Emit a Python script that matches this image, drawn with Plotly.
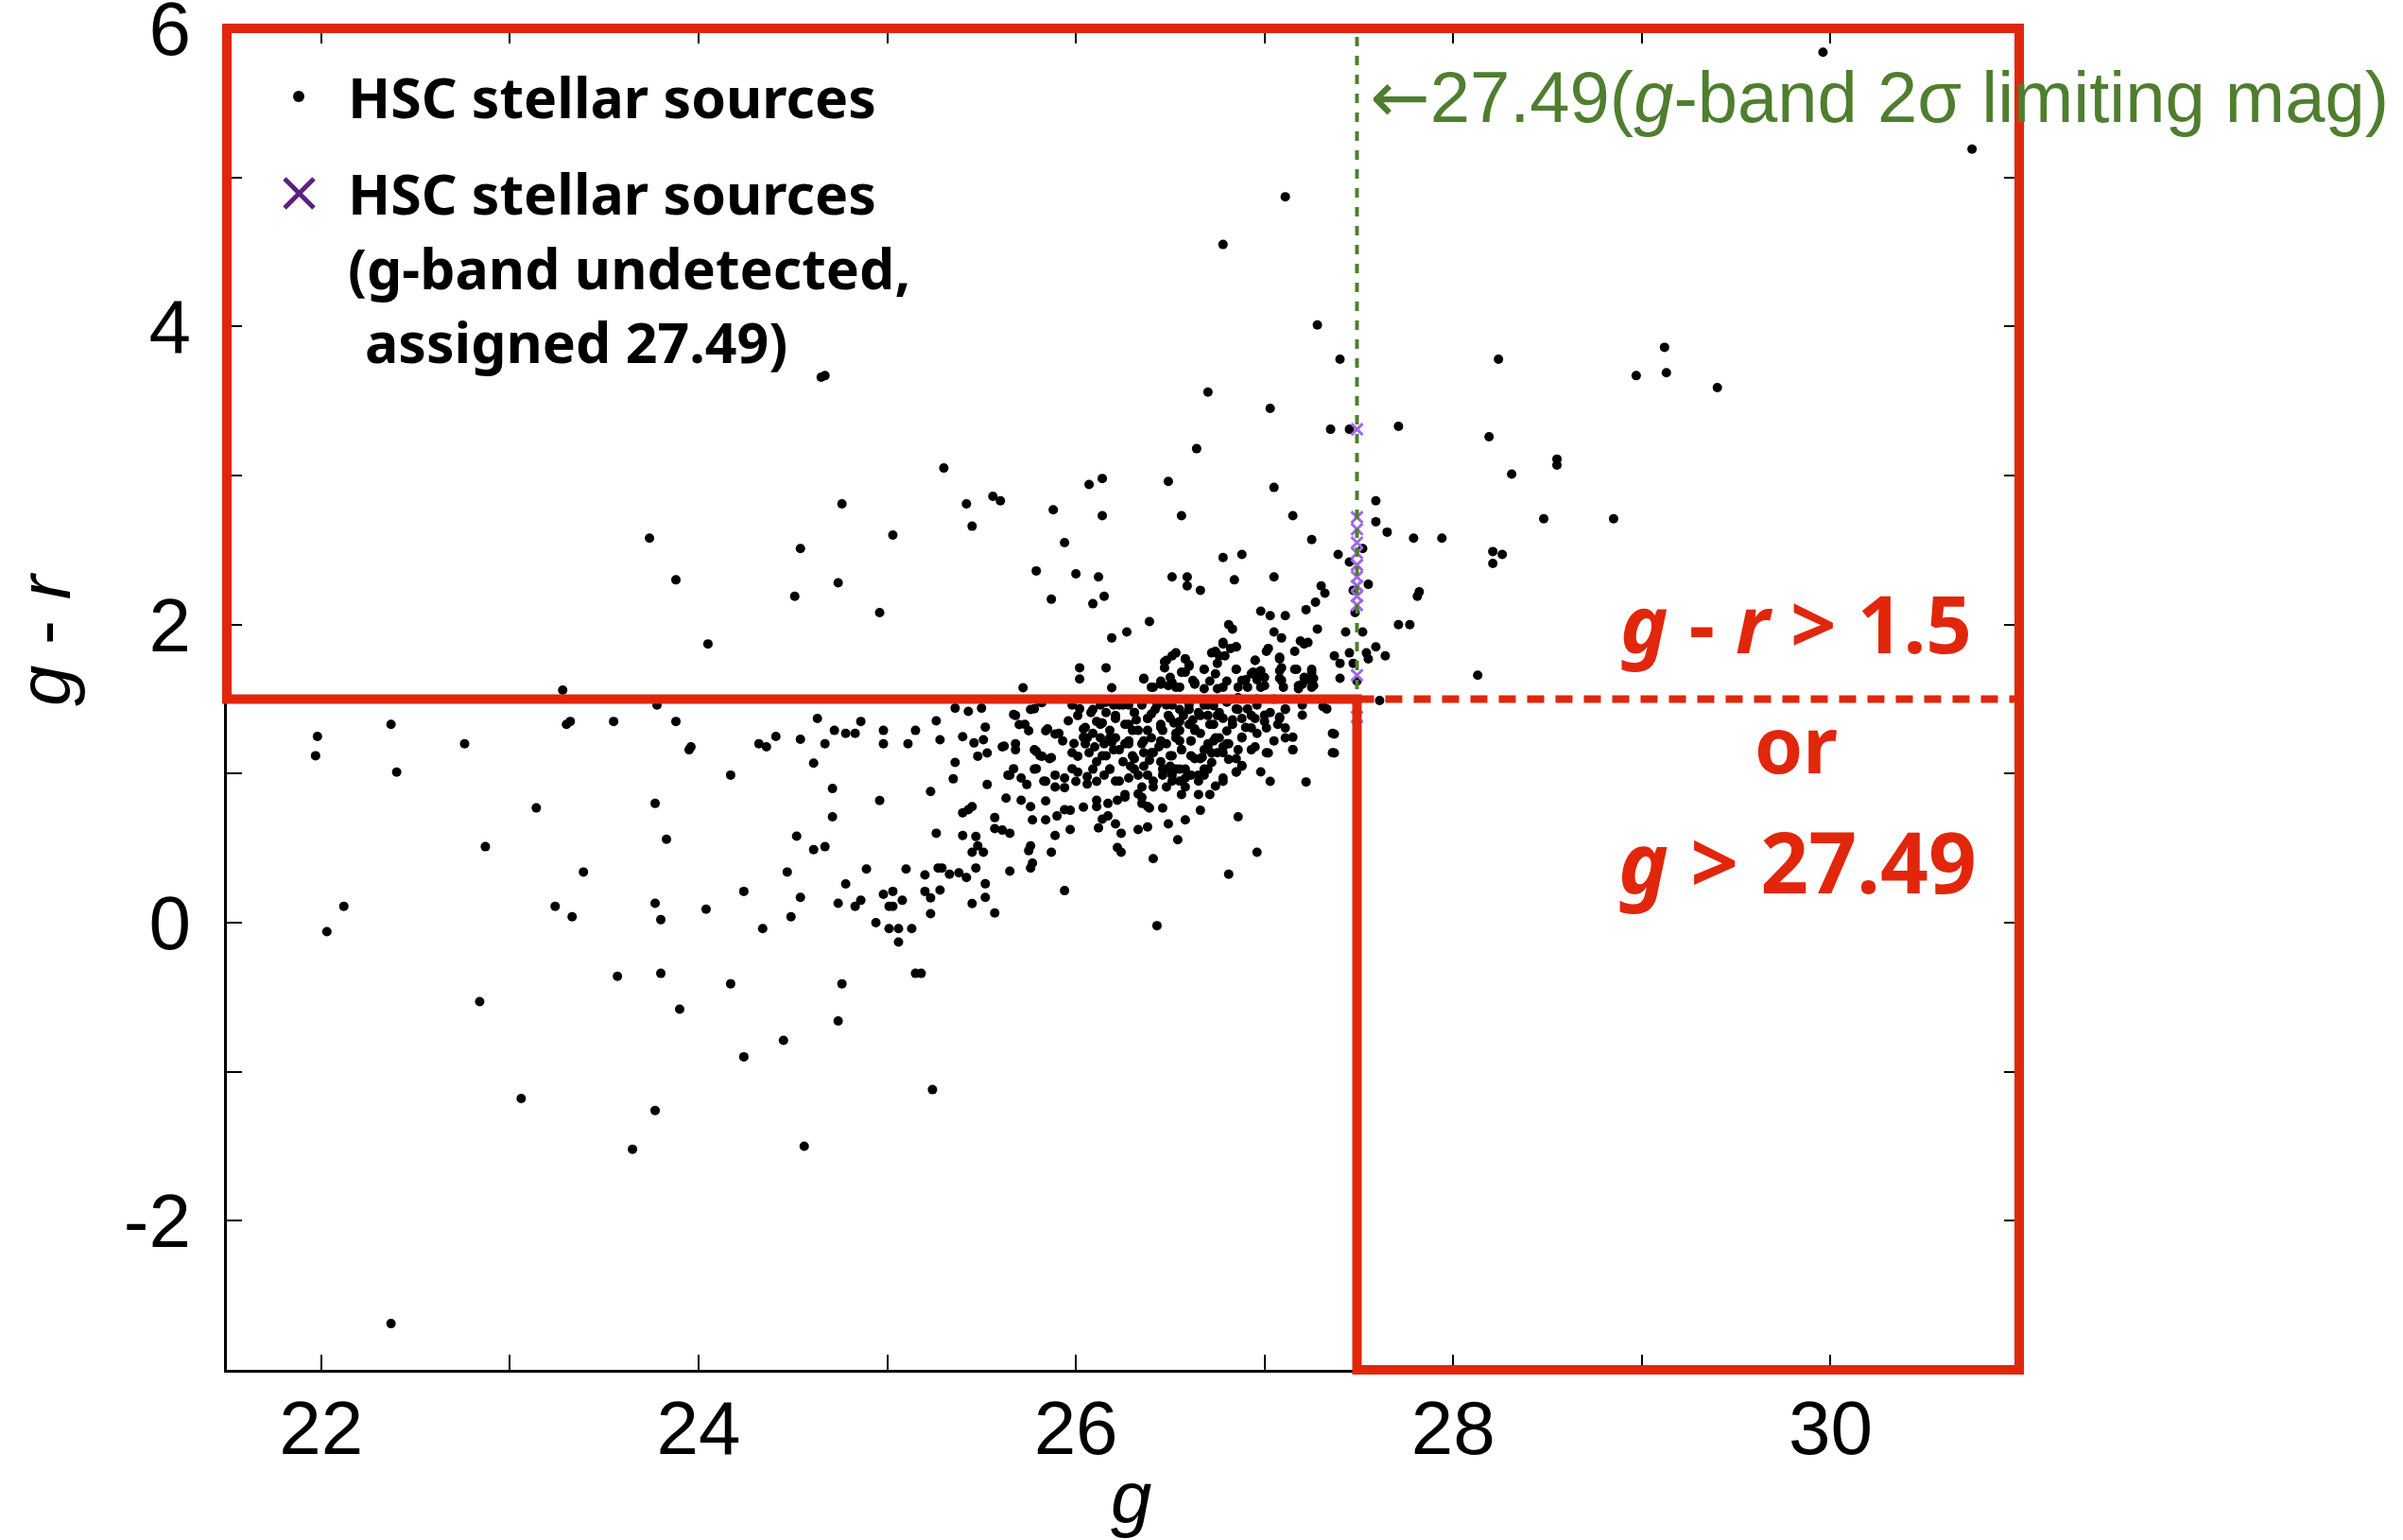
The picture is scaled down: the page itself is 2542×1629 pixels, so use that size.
import plotly.graph_objects as go

# ---------------- data ----------------
# (g, g-r) pairs of HSC stellar sources, grouped by region of the diagram
left_sparse = [
    (24.05, 1.87), (23.28, 1.56), (23.78, 1.46), (22.37, 1.33), (21.98, 1.25), (21.97, 1.12),
    (22.40, 1.01), (22.76, 1.20), (23.30, 1.33), (23.32, 1.35), (23.55, 1.35), (23.88, 1.35),
    (23.96, 1.18), (23.95, 1.16), (24.17, 0.99), (24.32, 1.20), (24.36, 1.18), (24.41, 1.25),
    (24.54, 1.23), (24.63, 1.37), (24.61, 1.07), (24.67, 1.20), (24.72, 1.29), (24.78, 1.27),
    (24.83, 1.27), (24.86, 1.35), (24.98, 1.29), (24.98, 1.20), (25.11, 1.20), (25.15, 1.29),
    (24.71, 0.90), (24.71, 0.71), (24.96, 0.82), (23.77, 0.80), (23.83, 0.56), (23.14, 0.77),
    (22.87, 0.51), (23.39, 0.34), (22.12, 0.11), (22.03, -0.06), (23.24, 0.11), (23.33, 0.04),
    (23.77, 0.13), (23.80, 0.02), (24.04, 0.09), (24.24, 0.21), (24.34, -0.04), (24.47, 0.34),
    (24.52, 0.58), (24.61, 0.49), (24.67, 0.51), (24.54, 0.17), (24.49, 0.04), (24.74, 0.13),
    (24.78, 0.26), (24.83, 0.11), (24.86, 0.15), (24.89, 0.36), (24.94, 0.00), (24.98, 0.19),
    (25.03, 0.21), (25.01, 0.11), (25.03, 0.11), (25.08, 0.15), (25.10, 0.36), (25.01, -0.04),
    (25.06, -0.04), (25.13, -0.04), (25.06, -0.13), (25.15, -0.34), (25.18, -0.34), (24.76, -0.41),
    (24.74, -0.66), (24.45, -0.79), (24.24, -0.90), (24.17, -0.41), (23.90, -0.58), (23.80, -0.34),
    (23.57, -0.36), (22.84, -0.53), (23.06, -1.18), (23.77, -1.26), (23.65, -1.52), (24.56, -1.50),
    (25.20, 0.32), (25.20, 0.21), (22.37, -2.69), (25.24, -1.12), (23.74, 2.58), (23.88, 2.30),
]

upper_middle = [
    (24.65, 3.66), (24.67, 3.67), (27.11, 4.87), (26.78, 4.55), (27.28, 4.01), (27.40, 3.78),
    (26.70, 3.56), (27.03, 3.45), (27.35, 3.31), (27.45, 3.31), (27.71, 3.33), (26.64, 3.18),
    (25.30, 3.05), (26.07, 2.94), (26.14, 2.98), (26.49, 2.96), (27.05, 2.92), (24.76, 2.81),
    (25.42, 2.81), (25.56, 2.86), (25.60, 2.83), (25.45, 2.66), (25.03, 2.60), (25.88, 2.77),
    (26.14, 2.73), (26.56, 2.73), (27.15, 2.73), (27.59, 2.83), (27.59, 2.69), (27.65, 2.62),
    (25.94, 2.55), (24.54, 2.51), (24.74, 2.28), (24.51, 2.19), (24.96, 2.08), (25.79, 2.36),
    (26.00, 2.34), (26.12, 2.32), (25.87, 2.17), (26.09, 2.14), (26.15, 2.19), (26.51, 2.32),
    (26.59, 2.32), (26.59, 2.26), (26.66, 2.23), (26.78, 2.45), (26.88, 2.47), (26.84, 2.30),
    (27.05, 2.32), (27.25, 2.57), (27.39, 2.47), (27.45, 2.42), (27.30, 2.26), (27.32, 2.21),
    (27.55, 2.27), (27.47, 2.23), (27.27, 2.15), (27.22, 2.10), (27.48, 2.08), (26.39, 2.02),
    (26.27, 1.95), (26.19, 1.91), (26.81, 2.00), (26.83, 1.97), (26.98, 2.09), (27.03, 2.06),
    (27.11, 2.06), (27.28, 1.97), (27.43, 1.95), (27.52, 1.95), (27.05, 1.95), (27.09, 1.91),
    (27.19, 1.89), (27.71, 2.00),
]

right_side = [
    (29.96, 5.84), (30.75, 5.19), (28.24, 3.78), (29.12, 3.86), (28.97, 3.67), (29.13, 3.69),
    (29.40, 3.59), (28.19, 3.26), (28.31, 3.01), (28.55, 3.11), (28.55, 3.07), (28.48, 2.71),
    (28.85, 2.71), (27.79, 2.58), (27.94, 2.58), (28.21, 2.49), (28.26, 2.47), (28.21, 2.41),
    (27.52, 2.51), (27.81, 2.19), (27.82, 2.22), (27.77, 2.00), (27.37, 1.79), (27.40, 1.74),
    (27.45, 1.81), (27.54, 1.81), (27.55, 1.77), (27.59, 1.85), (27.64, 1.79), (27.47, 1.74),
    (27.40, 1.64), (27.49, 1.62), (28.13, 1.66), (27.61, 1.49),
]

cluster_edge = [
    (26.53, 1.81), (26.48, 1.76), (26.58, 1.77), (26.60, 1.73), (26.72, 1.81), (26.76, 1.79),
    (26.78, 1.88), (26.82, 1.84), (26.85, 1.85), (26.95, 1.76), (27.01, 1.82), (27.08, 1.78),
    (27.16, 1.82), (27.21, 1.87), (26.02, 1.71), (26.16, 1.71), (26.02, 1.635), (26.36, 1.635),
    (26.47, 1.71), (26.50, 1.646), (26.56, 1.68), (26.62, 1.625), (26.68, 1.70), (26.74, 1.67),
    (26.85, 1.70), (26.88, 1.625), (26.93, 1.67), (26.97, 1.68), (27.00, 1.646), (27.08, 1.69),
    (27.09, 1.625), (27.16, 1.70), (27.21, 1.646), (27.25, 1.70), (27.25, 1.625), (25.72, 1.576),
    (26.19, 1.576), (26.40, 1.58), (26.45, 1.60), (26.55, 1.58), (26.63, 1.60), (26.78, 1.58),
    (26.91, 1.58), (27.00, 1.59), (27.18, 1.59), (27.26, 1.59), (25.36, 1.439), (25.43, 1.418),
    (25.50, 1.439), (25.26, 1.354), (25.28, 1.227), (25.52, 1.312), (25.40, 1.248), (25.46, 1.206),
    (25.51, 1.227), (25.48, 1.117), (25.53, 1.138), (25.36, 1.075), (25.35, 0.965), (25.23, 0.88),
    (25.53, 0.927), (25.67, 1.397), (25.70, 1.329), (25.78, 1.435), (25.82, 1.477), (25.75, 1.287),
    (25.62, 1.185), (25.68, 1.16), (25.79, 1.149), (25.82, 1.117), (25.87, 1.107), (25.84, 1.287),
    (25.89, 1.265), (25.96, 1.354), (26.02, 1.435), (25.99, 1.202), (26.04, 1.244), (26.01, 1.117),
    (25.79, 1.033), (25.65, 0.99), (25.67, 1.033), (25.74, 0.927), (25.84, 0.948), (25.89, 0.99),
    (25.94, 0.906), (25.98, 1.033), (26.00, 0.948), (26.06, 0.98), (26.11, 0.948), (25.63, 0.836),
    (25.71, 0.821), (25.76, 0.779), (25.84, 0.817), (25.77, 0.69), (25.84, 0.69), (25.90, 0.716),
    (25.94, 0.758), (25.97, 0.754), (26.04, 0.775), (26.11, 0.779), (26.11, 0.821), (26.17, 0.80),
    (26.22, 0.821), (26.26, 0.842), (26.33, 0.864), (26.35, 0.80), (26.39, 0.769), (25.40, 0.737),
    (25.43, 0.758), (25.45, 0.779), (25.57, 0.705), (25.57, 0.631), (25.61, 0.621), (25.65, 0.60),
    (25.26, 0.60), (25.40, 0.585), (25.47, 0.578), (25.48, 0.515), (25.45, 0.473), (25.51, 0.473),
    (25.76, 0.515), (25.75, 0.483), (25.87, 0.473), (25.89, 0.585), (25.97, 0.625), (26.12, 0.636),
    (26.14, 0.695), (26.17, 0.716), (26.21, 0.663), (26.24, 0.60), (26.22, 0.504), (26.24, 0.473),
    (26.33, 0.625), (26.38, 0.642), (26.41, 0.43), (26.49, 0.663), (26.54, 0.557), (26.58, 0.69),
    (26.66, 0.754), (26.46, 0.769), (26.56, 0.86), (26.65, 0.86), (26.71, 0.86), (26.86, 0.71),
    (26.96, 0.473), (26.81, 0.325), (26.43, -0.02), (25.94, 0.215), (25.77, 0.40), (25.76, 0.367),
    (25.65, 0.346), (25.52, 0.261), (25.52, 0.17), (25.45, 0.128), (25.47, 0.367), (25.42, 0.303),
    (25.38, 0.335), (25.33, 0.325), (25.29, 0.367), (25.27, 0.367), (25.23, 0.166), (25.23, 0.06),
    (25.28, 0.219), (25.57, 0.065), (27.03, 0.948), (26.98, 1.012), (27.22, 0.944), (27.37, 1.265),
    (27.37, 1.139), (27.15, 1.16), (27.15, 1.244), (27.11, 1.307), (27.08, 1.371), (27.20, 1.392),
    (27.33, 1.434), (27.11, 1.434), (27.01, 1.307), (27.00, 1.392), (27.02, 1.139), (26.95, 1.18),
    (26.88, 1.054), (26.85, 1.012), (26.78, 0.948), (26.74, 0.917), (26.88, 1.244), (26.81, 1.096),
    (26.78, 1.18), (26.72, 1.139), (26.72, 1.075), (26.93, 1.307), (26.91, 1.434), (26.85, 1.434),
    (26.78, 1.371), (26.73, 1.456), (26.80, 1.286),
]

cluster_core = [
    (26.05, 1.31), (26.09, 1.27), (26.11, 1.35), (26.13, 1.46), (26.15, 1.20), (26.18, 1.29),
    (26.20, 1.16), (26.21, 1.37), (26.23, 1.46), (26.26, 1.33), (26.28, 1.22), (26.30, 1.12),
    (26.31, 1.41), (26.33, 1.29), (26.35, 1.20), (26.36, 1.05), (26.38, 1.37), (26.40, 1.24),
    (26.41, 1.14), (26.43, 1.46), (26.45, 1.33), (26.46, 1.03), (26.48, 1.20), (26.50, 1.37),
    (26.51, 1.12), (26.53, 1.27), (26.55, 1.43), (26.56, 1.16), (26.58, 1.03), (26.60, 1.33),
    (26.61, 1.22), (26.63, 1.10), (26.65, 1.41), (26.66, 1.27), (26.68, 1.16), (26.70, 1.03),
    (26.71, 1.33), (26.73, 1.22), (26.75, 1.39), (26.76, 1.24), (26.11, 1.08), (26.15, 0.99),
    (26.18, 1.03), (26.21, 0.95), (26.25, 1.08), (26.28, 0.97), (26.31, 1.03), (26.35, 0.91),
    (26.38, 0.99), (26.41, 0.95), (26.45, 1.08), (26.48, 0.91), (26.51, 0.99), (26.55, 0.95),
    (26.58, 0.91), (26.61, 0.99), (26.65, 0.95), (26.68, 0.99), (26.07, 1.14), (26.09, 1.03),
    (26.16, 1.12), (26.26, 1.20), (26.36, 1.14), (26.45, 1.22), (26.53, 1.03), (26.61, 1.12),
    (26.70, 1.20), (26.08, 1.41), (26.16, 1.41), (26.28, 1.46), (26.35, 1.46), (26.48, 1.46),
    (26.60, 1.46), (26.68, 1.46), (26.21, 1.24), (26.30, 1.29), (26.38, 1.29), (26.46, 1.29),
    (26.55, 1.29), (26.63, 1.29), (26.05, 1.20), (26.13, 1.24), (26.20, 1.46), (26.32, 1.36),
    (26.40, 1.40), (26.52, 1.34), (26.57, 1.39), (26.62, 1.36), (26.70, 1.39), (26.44, 1.18),
    (26.55, 1.22), (26.67, 1.11), (26.39, 1.09), (26.50, 1.05), (26.29, 1.05), (26.19, 1.21),
    (26.14, 1.34), (26.75, 1.14), (26.80, 1.20), (26.83, 1.33), (26.88, 1.37), (26.86, 1.16),
    (26.95, 1.37), (26.96, 1.27), (27.05, 1.22), (27.07, 1.33), (26.96, 1.50), (27.05, 1.50),
    (26.86, 1.51),
]

cluster_dense = [
    (26.47, 1.75), (26.51, 1.79), (26.58, 1.77), (26.60, 1.72), (26.58, 1.68), (26.68, 1.70),
    (26.74, 1.82), (26.78, 1.87), (26.75, 1.74), (26.79, 1.79), (26.85, 1.85), (26.85, 1.70),
    (26.95, 1.76), (26.94, 1.68), (26.96, 1.63), (26.98, 1.69), (27.02, 1.84), (27.08, 1.77),
    (27.09, 1.71), (27.08, 1.64), (27.17, 1.70), (27.20, 1.60), (27.25, 1.68), (27.22, 1.63),
    (27.23, 1.88), (27.26, 1.64), (26.36, 1.64), (26.45, 1.62), (26.51, 1.61), (26.63, 1.61),
    (26.71, 1.62), (26.80, 1.62), (26.90, 1.63), (26.41, 1.58), (26.49, 1.59), (26.53, 1.58),
    (26.68, 1.57), (26.75, 1.57), (26.86, 1.58), (26.98, 1.58), (27.10, 1.58), (27.18, 1.57),
    (27.25, 1.58), (25.76, 1.43), (25.81, 1.48), (25.68, 1.39), (25.73, 1.33), (25.85, 1.30),
    (25.91, 1.27), (25.98, 1.46), (26.01, 1.39), (26.04, 1.30), (26.09, 1.43), (26.13, 1.33),
    (26.16, 1.48), (26.21, 1.39), (26.25, 1.46), (26.28, 1.33), (26.31, 1.41), (26.35, 1.48),
    (26.38, 1.37), (26.42, 1.43), (26.45, 1.31), (26.49, 1.39), (26.51, 1.46), (26.55, 1.35),
    (26.60, 1.43), (26.63, 1.30), (26.66, 1.39), (26.70, 1.46), (26.73, 1.33), (26.76, 1.41),
    (26.80, 1.48), (26.83, 1.36), (26.86, 1.43), (26.90, 1.31), (26.93, 1.39), (26.96, 1.46),
    (27.00, 1.35), (27.03, 1.41), (27.08, 1.38), (27.11, 1.43), (27.20, 1.46), (27.31, 1.45),
    (27.36, 1.27), (27.36, 1.14), (25.61, 1.18), (25.68, 1.20), (25.78, 1.16), (25.81, 1.12),
    (25.86, 1.10), (25.93, 1.22), (25.98, 1.14), (26.06, 1.24), (26.10, 1.18), (26.14, 1.12),
    (26.18, 1.24), (26.23, 1.16), (26.28, 1.20), (26.31, 1.10), (26.36, 1.22), (26.40, 1.14),
    (26.45, 1.20), (26.50, 1.12), (26.53, 1.24), (26.56, 1.16), (26.61, 1.22), (26.66, 1.10),
    (26.70, 1.18), (26.74, 1.24), (26.78, 1.14), (26.81, 1.20), (26.85, 1.10), (26.88, 1.24),
    (26.93, 1.16), (27.01, 1.14), (27.15, 1.16), (27.11, 1.24), (25.64, 0.99), (25.71, 0.97),
    (25.78, 1.03), (25.83, 0.95), (25.89, 0.91), (25.94, 0.97), (26.01, 1.01), (26.06, 0.93),
    (26.18, 1.03), (26.23, 0.95), (26.26, 0.86), (26.33, 0.99), (26.35, 0.84), (26.38, 0.78),
    (26.41, 0.91), (26.46, 0.99), (26.48, 1.03), (26.51, 0.95), (26.55, 1.03), (26.58, 0.97),
    (26.65, 0.99), (26.68, 1.03), (26.78, 0.97), (26.85, 1.01), (26.88, 1.05),
]

# g-band undetected sources, assigned g = 27.49
undet_g = [27.49, 27.49, 27.49, 27.49, 27.49, 27.49, 27.49, 27.49, 27.49, 27.49, 27.49, 27.49]
undet_gr = [3.31, 2.72, 2.64, 2.55, 2.48, 2.40, 2.32, 2.26, 2.19, 2.13, 1.66, 1.38]

G_LIMIT = 27.49
GR_CUT = 1.5
X_RANGE = [21.5, 31]
Y_RANGE = [-3, 6]
X_TICKS = [22, 24, 26, 28, 30]
X_TICKTEXT = ["22", "24", "26", "28", "30"]
Y_TICKS = [-2, 0, 2, 4, 6]
Y_TICKTEXT = ["-2", "0", "2", "4", "6"]

# ---------------- figure ----------------
detected = left_sparse + upper_middle + right_side + cluster_edge + cluster_core + cluster_dense
det_g = [p[0] for p in detected]
det_gr = [p[1] for p in detected]

W, H = 2542, 1629
ML, MR, MT, MB = 240, 406, 30, 180
PW, PH = W - ML - MR, H - MT - MB

RED = "#e1260c"
GREEN = "#4f7e2e"
PURPLE = "#5c1f80"


def px(X):
    return (X - ML) / PW


def py(Y):
    return 1 - (Y - MT) / PH


def fx(v):
    return (v - X_RANGE[0]) / (X_RANGE[1] - X_RANGE[0])


def fy(v):
    return (v - Y_RANGE[0]) / (Y_RANGE[1] - Y_RANGE[0])


fig = go.Figure()
fig.add_trace(go.Scatter(
    x=det_g, y=det_gr, mode="markers", name="HSC stellar sources",
    marker=dict(color="black", size=10, line=dict(width=0)), showlegend=False,
))
fig.add_trace(go.Scatter(
    x=undet_g, y=undet_gr, mode="markers",
    name="HSC stellar sources (g-band undetected, assigned 27.49)",
    marker=dict(symbol="x-thin-open", color="#a066ea", size=12, line=dict(width=3, color="#a066ea")),
    showlegend=False,
))

shapes = [
    # g-band 2 sigma limiting magnitude
    dict(type="line", xref="x", yref="y domain", x0=G_LIMIT, x1=G_LIMIT, y0=0, y1=1,
         line=dict(color=GREEN, width=4, dash="10px,10px"), layer="above"),
    # selection region outline
    dict(type="path", xref="x domain", yref="y domain",
         path=(f"M {fx(X_RANGE[0])},{fy(GR_CUT)} L {fx(X_RANGE[0])},1 L 1,1 L 1,0 "
               f"L {fx(G_LIMIT)},0 L {fx(G_LIMIT)},{fy(GR_CUT)} Z"),
         line=dict(color=RED, width=10), fillcolor="rgba(0,0,0,0)", layer="above"),
    dict(type="line", xref="x domain", yref="y domain", x0=fx(G_LIMIT), x1=1,
         y0=fy(GR_CUT), y1=fy(GR_CUT), line=dict(color=RED, width=8, dash="18px,12px"), layer="above"),
    # manual legend symbols
    dict(type="circle", xref="paper", yref="paper", x0=px(310), x1=px(322), y0=py(108), y1=py(96),
         fillcolor="black", line=dict(width=0)),
    dict(type="line", xref="paper", yref="paper", x0=px(301), x1=px(332), y0=py(189), y1=py(220),
         line=dict(color=PURPLE, width=5)),
    dict(type="line", xref="paper", yref="paper", x0=px(301), x1=px(332), y0=py(220), y1=py(189),
         line=dict(color=PURPLE, width=5)),
]

LEG_FONT = dict(family="Noto Sans", size=59, color="black", weight="bold")
annotations = [
    dict(text="HSC stellar sources", x=px(366), y=py(102)),
    dict(text="HSC stellar sources", x=px(366), y=py(204)),
    dict(text="(g-band undetected,", x=px(366), y=py(283)),
    dict(text="assigned 27.49)", x=px(384), y=py(361)),
]
for a in annotations:
    a.update(xref="paper", yref="paper", xanchor="left", yanchor="middle", showarrow=False, font=LEG_FONT)

annotations += [
    dict(text="<span style=\"font-family:'DejaVu Sans'\">←</span>27.49(<i>g</i>-band 2σ limiting mag)",
         x=px(1447), y=py(102), xref="paper", yref="paper",
         xanchor="left", yanchor="middle", showarrow=False,
         font=dict(family="Liberation Sans", size=76, color=GREEN)),
    dict(text="<b><i>g</i> - <i>r</i> > 1.5</b>", x=px(1900), y=py(658), xref="paper", yref="paper",
         xanchor="center", yanchor="middle", showarrow=False,
         font=dict(family="Noto Sans", size=85, color=RED)),
    dict(text="<b>or</b>", x=px(1900), y=py(786), xref="paper", yref="paper",
         xanchor="center", yanchor="middle", showarrow=False,
         font=dict(family="Noto Sans", size=82, color=RED)),
    dict(text="<b><i>g</i> > 27.49</b>", x=px(1901), y=py(910), xref="paper", yref="paper",
         xanchor="center", yanchor="middle", showarrow=False,
         font=dict(family="Noto Sans", size=89, color=RED)),
    # axis titles
    dict(text="<i>g</i>", x=px(1196), y=py(1584), xref="paper", yref="paper",
         xanchor="center", yanchor="middle", showarrow=False,
         font=dict(family="Liberation Sans", size=78, color="black")),
    dict(text="<i>g</i> - <i>r</i>", x=px(47), y=py(676), xref="paper", yref="paper", textangle=-90,
         xanchor="center", yanchor="middle", showarrow=False,
         font=dict(family="Liberation Sans", size=78, color="black")),
]

axis_common = dict(
    showgrid=False, zeroline=False, showline=True, linecolor="black", linewidth=3,
    mirror="ticks", ticks="inside", ticklen=16, tickwidth=2, tickcolor="black",
    tickfont=dict(family="Liberation Sans", size=80, color="black"),
    ticklabeloverflow="allow", automargin=False,
)

fig.update_layout(
    width=W, height=H,
    margin=dict(l=ML, r=MR, t=MT, b=MB, pad=0, autoexpand=False),
    paper_bgcolor="white", plot_bgcolor="white",
    xaxis=dict(range=X_RANGE, tickmode="array", tickvals=X_TICKS, ticktext=X_TICKTEXT,
               ticklabelstandoff=-10,
               minor=dict(dtick=1, tick0=22, ticks="inside", ticklen=16, tickwidth=2, tickcolor="black"),
               **axis_common),
    yaxis=dict(range=Y_RANGE, tickmode="array", tickvals=Y_TICKS, ticktext=Y_TICKTEXT,
               ticklabelstandoff=19,
               minor=dict(dtick=1, tick0=0, ticks="inside", ticklen=16, tickwidth=2, tickcolor="black"),
               **axis_common),
    shapes=shapes,
    annotations=annotations,
    showlegend=False,
)

fig.write_html("out.html")
